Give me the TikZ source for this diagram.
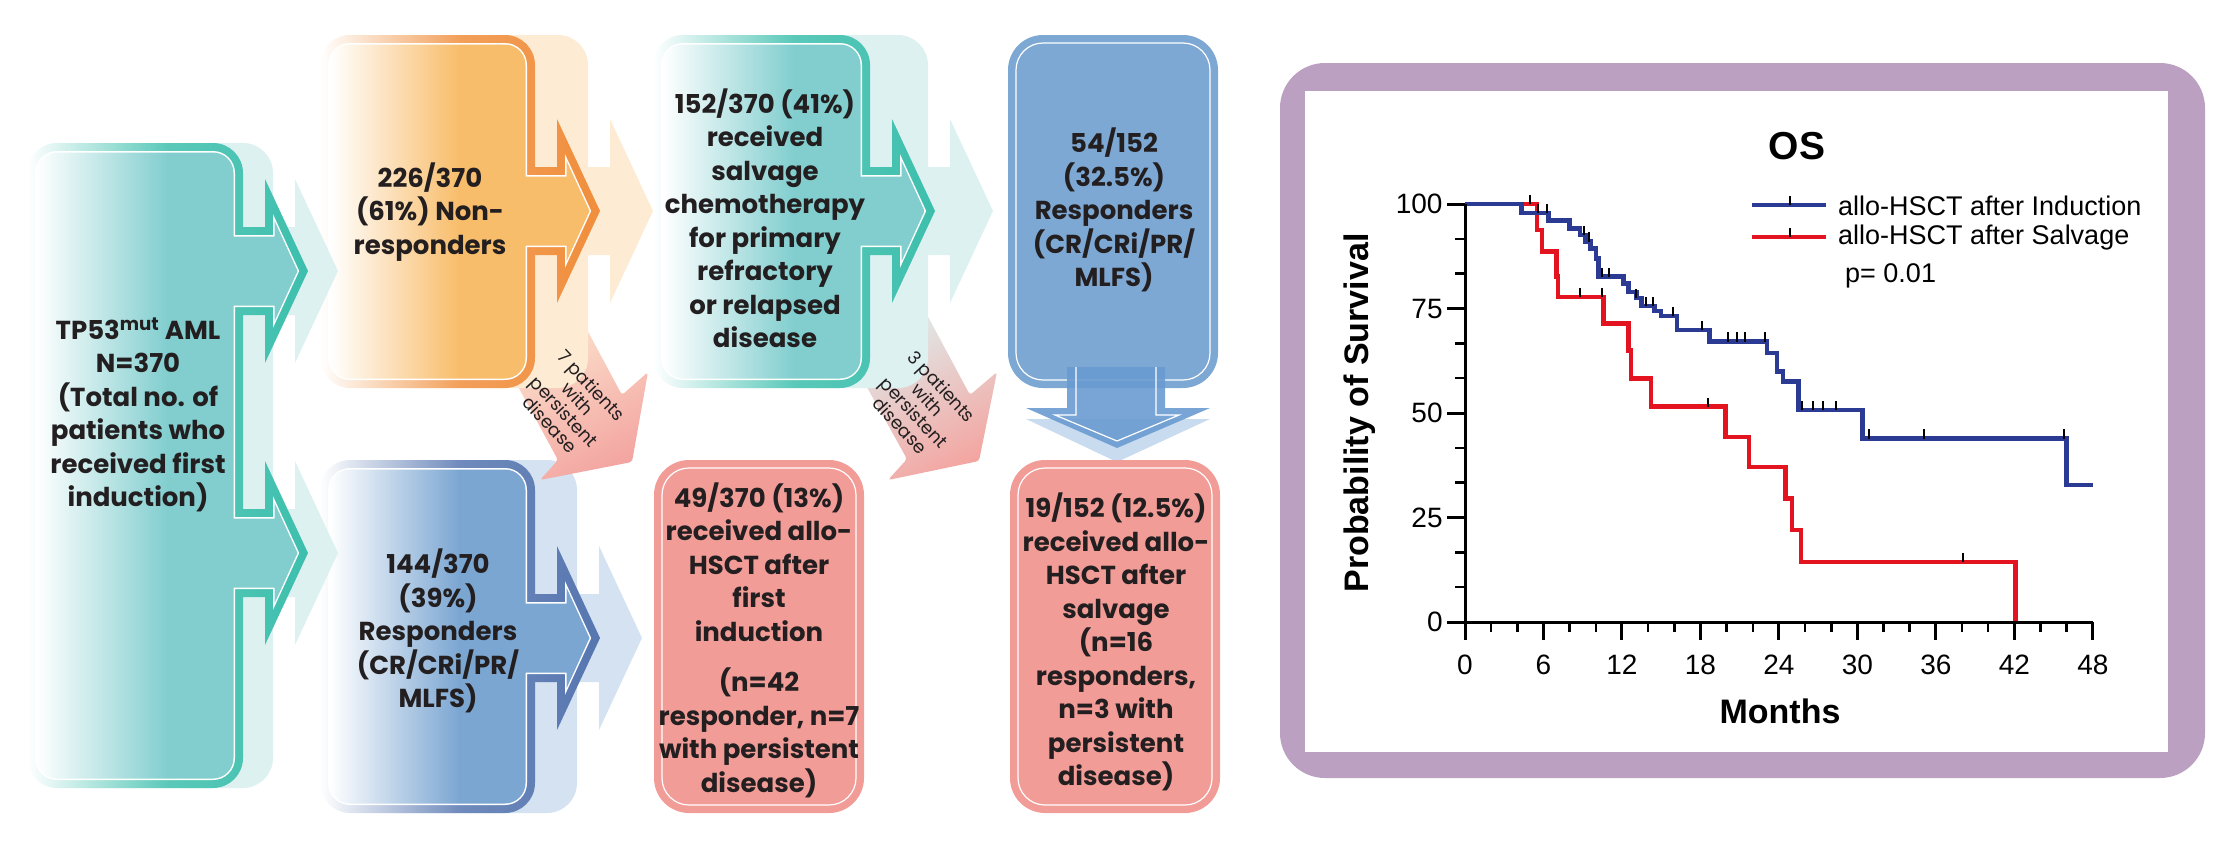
\documentclass[tikz,border=0pt]{standalone}
\usepackage{fontspec}
\setmainfont{Poppins}
\newfontfamily\chartfont{Liberation Sans}

\definecolor{tealbody}{HTML}{82CECF}
\definecolor{tealedge}{HTML}{3DBFAD}
\definecolor{tealecho}{HTML}{DDF1F1}
\definecolor{orangebody}{HTML}{F8BD6B}
\definecolor{orangeedge}{HTML}{F08E3C}
\definecolor{orangeecho}{HTML}{FDEBD3}
\definecolor{bluebody}{HTML}{7BA6D2}
\definecolor{blueedge}{HTML}{5676B0}
\definecolor{blueecho}{HTML}{D4E2F1}
\definecolor{respblue}{HTML}{7DA8D3}
\definecolor{pinkbox}{HTML}{F29C97}
\definecolor{downblue}{HTML}{6A9BD1}
\definecolor{downecho}{HTML}{C9DBEF}
\definecolor{frameviolet}{HTML}{BBA0C1}
\definecolor{kmblue}{HTML}{2B3A92}
\definecolor{kmred}{HTML}{E3141F}
\definecolor{textdark}{HTML}{231F20}

% body of a stage box and one arrow head on its right side (#6 / #3 = inset)
\newcommand\bodyrect[6]{[rounded corners=#5pt] ({#1+#6},{#2+#6}) -- ({#3-#6},{#2+#6}) -- ({#3-#6},{#4-#6}) -- ({#1+#6},{#4-#6}) -- cycle [sharp corners]}
\newcommand\headpoly[3]{({#1-20},{#2-44+#3}) -- ({#1+22+#3},{#2-44+#3}) -- ({#1+22+#3},{#2-92+4.4*#3})
  -- ({#1+65-1.1*#3},#2) -- ({#1+22+#3},{#2+92-4.4*#3}) -- ({#1+22+#3},{#2+44-#3}) -- ({#1-20},{#2+44-#3}) -- cycle}

% the four stage shapes
\newcommand\shapefirst[2]{\bodyrect{27}{143}{243}{788}{#2}{#1} \headpoly{243}{271}{#1} \headpoly{243}{553}{#1}}
\newcommand\shapenonresp[2]{\bodyrect{320}{35}{535}{388}{#2}{#1} \headpoly{535}{211}{#1}}
\newcommand\shaperesp[2]{\bodyrect{320}{460}{535}{813}{#2}{#1} \headpoly{535}{638}{#1}}
\newcommand\shapesalvage[2]{\bodyrect{653}{35}{870}{388}{#2}{#1} \headpoly{870}{211}{#1}}

% echo, edge, white line, body
\newcommand\layered[5]{%
  \path[fill=#3, shift={(#2,0)}] #1{0}{30};
  \path[left color=white, right color=#4, middle color=#4!85!white] #1{0}{30};
  \path[fill=white] #1{8}{22};
  \path[left color=white, right color=#5, middle color=#5] #1{9.5}{20.5};}

\begin{document}
\begin{tikzpicture}[x=1pt, y=-1pt,
    every node/.style={inner sep=0pt, text=textdark},
    stagetext/.style={font=\fontsize{26}{33.5}\selectfont\bfseries, align=center},
    patienttext/.style={font=\fontsize{18}{19}\selectfont, align=center, rotate=-47},
    plainbox/.style={rounded corners=35pt},
    innerline/.style={draw=white, line width=1.2pt, rounded corners=27pt},
    ticklabel/.style={font=\chartfont\fontsize{28}{30}\selectfont, text=black},
    legendtext/.style={font=\chartfont\fontsize{27}{29}\selectfont, text=black, anchor=west},
    kmline/.style={line width=4.5pt, line join=miter},
    censor/.style={line width=2pt, black}]
  \useasboundingbox (0,0) rectangle (2225,844);

  % lower row
  \layered{\shaperesp}{42}{blueecho}{blueedge}{bluebody}
  \path[fill=pinkbox, plainbox] (654,460) rectangle (864,813);
  \path[innerline] (662,468) rectangle (856,805);
  \path[fill=respblue, plainbox] (1008,35) rectangle (1218,388);
  \path[innerline] (1016,43) rectangle (1210,380);
  \path[fill=downecho] (1026,419) -- (1210,419) -- (1117,462) -- cycle;
  \path[fill=downblue, fill opacity=0.9] (1067,367) -- (1165,367) -- (1165,408) -- (1210,408)
    -- (1117,448) -- (1026,408) -- (1067,408) -- cycle;
  \draw[white, line width=1.2pt] (1076,367) -- (1076,415) -- (1055,415) -- (1117,441)
    -- (1179,415) -- (1156,415) -- (1156,367);
  \path[fill=pinkbox, plainbox] (1010,460) rectangle (1220,813);
  \path[innerline] (1018,468) rectangle (1212,805);

  % persistent disease arrows
  \path[top color=orangeecho, bottom color=pinkbox!90!white, shading angle=28, rounded corners=3pt]
    (496,346) -- (570,298) -- (622,395) -- (648,372) -- (632,462) -- (540,480) -- (558,460) -- cycle;
  \path[top color=tealecho, bottom color=pinkbox!90!white, shading angle=28, rounded corners=3pt]
    (844,346) -- (918,298) -- (970,395) -- (997,372) -- (979,461) -- (888,480) -- (907,459) -- cycle;

  % upper row and first box
  \layered{\shapenonresp}{53}{orangeecho}{orangeedge}{orangebody}
  \layered{\shapesalvage}{58}{tealecho}{tealedge}{tealbody}
  \layered{\shapefirst}{30}{tealecho}{tealedge}{tealbody}

  % texts
  \node[stagetext] (first) at (138,415) {TP53\textsuperscript{mut} AML\\N=370\\(Total no. of\\patients who\\received first\\induction)};
  \node[stagetext] (nonresp) at (430,212) {226/370\\(61\%) Non-\\responders};
  \node[stagetext] (resp) at (438,631) {144/370\\(39\%)\\Responders\\(CR/CRi/PR/\\MLFS)};
  \node[stagetext] (salvage) at (765,218) {152/370 (41\%)\\received\\salvage\\chemotherapy\\for primary\\refractory\\or relapsed\\disease};
  \node[stagetext] (hsctfirst) at (759,640) {49/370 (13\%)\\received allo-\\HSCT after\\first\\induction\\[17pt](n=42\\responder, n=7\\with persistent\\disease)};
  \node[stagetext] (resp2) at (1114,210) {54/152\\(32.5\%)\\Responders\\(CR/CRi/PR/\\MLFS)};
  \node[stagetext] (hsctsalv) at (1116,642) {19/152 (12.5\%)\\received allo-\\HSCT after\\salvage\\(n=16\\responders,\\n=3 with\\persistent\\disease)};
  \node[patienttext] (persA) at (571,405) {7 patients\\with\\persistent\\disease};
  \node[patienttext] (persB) at (921,406) {3 patients\\with\\persistent\\disease};

  % survival plot
  \path[fill=frameviolet, rounded corners=45pt] (1280,63) rectangle (2205,778);
  \path[fill=white] (1305,91) rectangle (2168,752);
  \begin{scope}[shift={(1465,622)}, x=13.08pt, y=4.18pt]
    \draw[kmline, kmred] (0,100) -| (5.5,93.8) -| (5.9,88.6) -| (7.0,82.6) -| (7.1,77.8)
      -| (10.6,71.4) -| (12.5,64.9) -| (12.7,58.3) -| (14.2,51.5) -| (19.9,44.3) -| (21.7,37.1)
      -| (24.5,29.5) -| (25.0,22.0) -| (25.7,14.4) -| (42.1,0);
    \draw[kmline, kmblue] (0,100) -| (4.3,97.8) -| (6.4,96.0) -| (8.0,94.2) -| (8.8,92.6)
      -| (9.2,91.0) -| (9.6,89.4) -| (10.0,87.0) -| (10.2,82.6) -| (12.1,81.0) -| (12.5,79.0)
      -| (13.1,77.5) -| (13.5,75.6) -| (14.5,74.4) -| (15.0,73.2) -| (16.2,69.9) -| (18.7,67.1)
      -| (23.1,64.3) -| (23.85,59.9) -| (24.3,57.5) -| (25.5,50.7) -| (30.4,43.9) -| (46.0,32.8)
      -- (48,32.8);
    \foreach \mt/\sv in {5.6/97.8, 6.3/97.8, 9.1/92.6, 9.5/91.0, 10.5/82.6, 11.0/82.6, 13.1/77.5,
        13.8/75.6, 14.4/75.6, 15.9/73.2, 18.1/69.9, 20.1/67.1, 20.8/67.1, 21.4/67.1, 22.9/67.1,
        25.8/50.7, 26.6/50.7, 27.4/50.7, 28.4/50.7, 30.9/43.9, 35.1/43.9, 45.8/43.9,
        5.0/100, 8.8/77.8, 10.5/77.8, 18.6/51.5, 38.1/14.4}
      \draw[censor] (\mt,\sv) -- ++(0,2.2);
    % axes
    \draw[line width=3pt] (0,100) -- (0,0) -- (48,0);
    \foreach \sv in {8.333,16.667,33.333,41.667,58.333,66.667,83.333,91.667}
      \draw[line width=2.5pt] (0,\sv) -- ++(-0.76,0);
    \foreach \sv in {0,25,50,75,100}{
      \draw[line width=3pt] (0,\sv) -- ++(-1.38,0);
      \node[ticklabel, anchor=east] (yt\sv) at (-1.7,\sv) {\sv};}
    \foreach \mt in {2,4,...,46}
      \draw[line width=2.5pt] (\mt,0) -- ++(0,-2.4);
    \foreach \mt in {0,6,...,48}{
      \draw[line width=3pt] (\mt,0) -- ++(0,-4.3);
      \node[ticklabel] (xt\mt) at (\mt,-10.3) {\mt};}
  \end{scope}
  \node[font=\chartfont\fontsize{39}{40}\selectfont\bfseries, text=black] (title) at (1797,146) {OS};
  \node[font=\chartfont\fontsize{34}{36}\selectfont\bfseries, text=black] (xlabel) at (1780,711) {Months};
  \node[font=\chartfont\fontsize{34}{36}\selectfont\bfseries, text=black, rotate=90] (ylabel) at (1360,413) {Probability of Survival};
  \coordinate (leg1a) at (1752,205);
  \coordinate (leg1b) at (1826,205);
  \coordinate (leg2a) at (1752,237);
  \coordinate (leg2b) at (1826,237);
  \draw[kmline, kmblue] (leg1a) -- (leg1b);
  \draw[kmline, kmred] (leg2a) -- (leg2b);
  \draw[censor] (1790,205) -- ++(0,-9);
  \draw[censor] (1790,237) -- ++(0,-9);
  \node[legendtext] (leg1) at (1838,206) {allo-HSCT after Induction};
  \node[legendtext] (leg2) at (1838,238) {allo-HSCT after Salvage};
  \node[legendtext] (pval) at (1845,276) {p= 0.01};
\end{tikzpicture}
\end{document}
